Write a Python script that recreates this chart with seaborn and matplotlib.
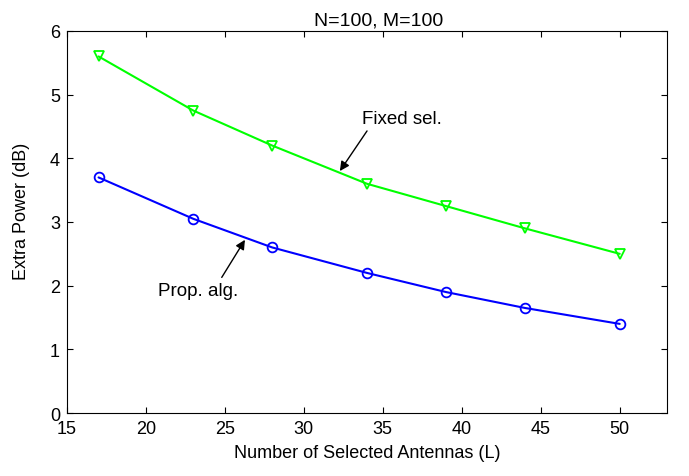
import matplotlib
matplotlib.use("Agg")
import matplotlib.pyplot as plt
import seaborn as sns
import numpy as np
import pandas as pd

# Data
antennas = [17, 23, 28, 34, 39, 44, 50]
fixed_sel = [5.6, 4.75, 4.2, 3.6, 3.25, 2.9, 2.5]
prop_alg = [3.7, 3.05, 2.6, 2.2, 1.9, 1.65, 1.4]

sns.set_style("ticks")
plt.rcParams["font.family"] = ["Liberation Sans", "DejaVu Sans"]
plt.rcParams["xtick.direction"] = "in"
plt.rcParams["ytick.direction"] = "in"
plt.rcParams["text.color"] = "black"
plt.rcParams["axes.labelcolor"] = "black"
plt.rcParams["xtick.color"] = "black"
plt.rcParams["ytick.color"] = "black"

fig = plt.figure(figsize=(6.89, 4.77), dpi=100)
ax = fig.add_axes([0.0972, 0.132, 0.871, 0.801])

df = pd.DataFrame({"L": antennas, "fixed": fixed_sel, "prop": prop_alg})

sns.lineplot(data=df, x="L", y="fixed", ax=ax, color="#00ff00", lw=1.5,
             marker="v", markersize=7, markerfacecolor="none",
             markeredgecolor="#00ff00", markeredgewidth=1.3)
sns.lineplot(data=df, x="L", y="prop", ax=ax, color="#0000ff", lw=1.5,
             marker="o", markersize=7, markerfacecolor="none",
             markeredgecolor="#0000ff", markeredgewidth=1.3)

ax.set_xlim(15, 53)
ax.set_ylim(0, 6)
ax.set_xticks(np.arange(15, 51, 5))
ax.set_yticks(np.arange(0, 7, 1))
ax.tick_params(top=True, right=True, labelsize=13, length=4, width=0.8, pad=5)
for s in ax.spines.values():
    s.set_linewidth(0.8)
    s.set_color("black")

ax.set_xlabel("Number of Selected Antennas (L)", fontsize=13, labelpad=5)
ax.set_ylabel("Extra Power (dB)", fontsize=13)
ax.yaxis.set_label_coords(-0.062, 0.53)
ax.set_title("N=100, M=100", fontsize=14, pad=5, x=0.519)

arrow = dict(arrowstyle="-|>", color="black", lw=1.0, mutation_scale=14,
             shrinkA=0, shrinkB=0)
ax.annotate("", xy=(32.28, 3.80), xytext=(34.0, 4.43), arrowprops=arrow)
ax.text(36.2, 4.63, "Fixed sel.", fontsize=13.5, ha="center", va="center")
ax.annotate("", xy=(26.27, 2.72), xytext=(24.8, 2.13), arrowprops=arrow)
ax.text(23.3, 1.93, "Prop. alg.", fontsize=13.5, ha="center", va="center")

fig.savefig("out.png", dpi=100)
